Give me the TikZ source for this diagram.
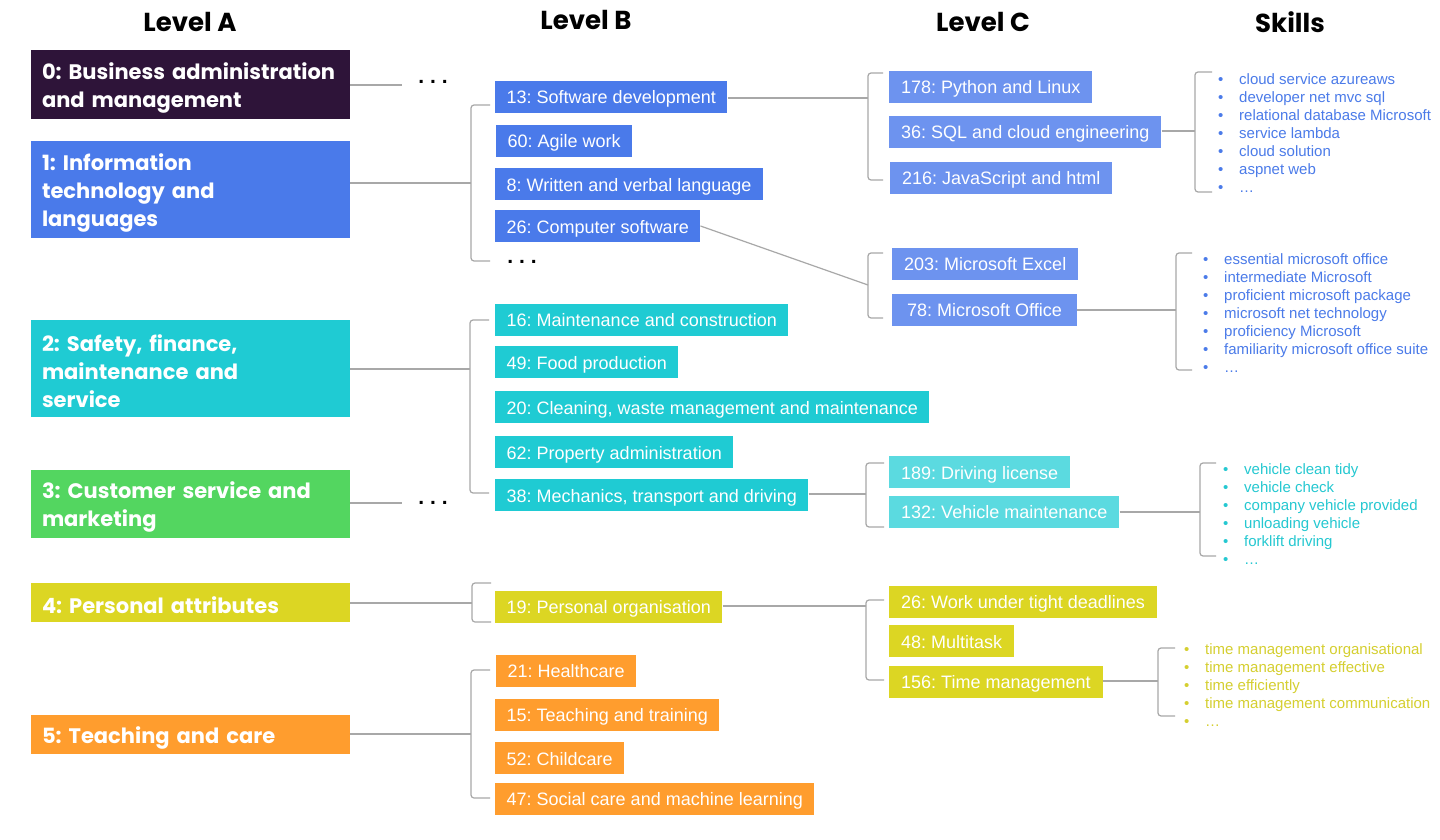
\documentclass[tikz,border=0pt]{standalone}
\usepackage{fontspec}
\setmainfont{Liberation Sans}
\newfontfamily\gothic{Poppins}
\usepackage{xcolor}
\usepackage{tikz}
\frenchspacing

\definecolor{purpA}{HTML}{2E1439}
\definecolor{blueA}{HTML}{4A7AEA}
\definecolor{blueC}{HTML}{6D93EF}
\definecolor{cyanA}{HTML}{1FCBD3}
\definecolor{cyanC}{HTML}{5BDAE0}
\definecolor{greenA}{HTML}{53D660}
\definecolor{yellowA}{HTML}{DCD623}
\definecolor{orangeA}{HTML}{FF9D2E}
\definecolor{skillblue}{HTML}{4B7BE9}
\definecolor{skillcyan}{HTML}{25C8D1}
\definecolor{skillyellow}{HTML}{D5CF30}
\definecolor{linegray}{HTML}{A8A8A8}

\begin{document}
\begin{tikzpicture}[x=1pt, y=-1pt,
    head/.style={font=\gothic\bfseries\fontsize{26}{30}\selectfont},
    catA/.style={minimum width=319pt, text width=297pt, inner xsep=11pt,
                 inner ysep=0pt, align=left, text=white, text height=23pt,
                 font=\gothic\bfseries\fontsize{21}{28}\selectfont},
    catB/.style={anchor=west, minimum height=32pt, inner xsep=11.5pt,
                 inner ysep=0pt, text height=15pt, text depth=1pt,
                 text=white, font=\fontsize{18}{20}\selectfont},
    catC/.style={catB, inner xsep=12pt},
    skill/.style={anchor=west, inner sep=0pt, text height=11pt,
                  text depth=3.5pt, font=\fontsize{15}{18}\selectfont},
    dots/.style={inner sep=0pt, font=\bfseries\fontsize{21}{21}\selectfont},
    link/.style={draw=linegray, line width=1.2pt},
    brace/.style={link, rounded corners=3pt}]
  \fill[white] (0,0) rectangle (1440,840);
  \useasboundingbox (0,0) rectangle (1440,840);

  % headers
  \node[head] (hA) at (190,22) {Level A};
  \node[head] (hB) at (586,20) {Level B};
  \node[head] (hC) at (983,22) {Level C};
  \node[head] (hS) at (1290,22) {Skills};

  % level A
  \node[catA, fill=purpA,   minimum height=69pt] (a0) at (190.5,84.5)
    {0: Business administration\\and management};
  \node[catA, fill=blueA,   minimum height=97pt] (a1) at (190.5,189.5)
    {1: Information\\technology and\\languages};
  \node[catA, fill=cyanA,   minimum height=97pt] (a2) at (190.5,368.5)
    {2: Safety, finance,\\maintenance and\\service};
  \node[catA, fill=greenA,  minimum height=68pt] (a3) at (190.5,504)
    {3: Customer service and\\marketing};
  \node[catA, fill=yellowA, minimum height=39pt] (a4) at (190.5,602)
    {4: Personal attributes};
  \node[catA, fill=orangeA, minimum height=39pt] (a5) at (190.5,734.5)
    {5: Teaching and care};

  % level B
  \node[catB, fill=blueA]   (b13) at (495,97)    {13: Software development};
  \node[catB, fill=blueA]   (b60) at (496,141)   {60: Agile work};
  \node[catB, fill=blueA]   (b8)  at (495,184)   {8: Written and verbal language};
  \node[catB, fill=blueA]   (b26) at (495,226)   {26: Computer software};
  \node[catB, fill=cyanA]   (b16) at (495,319.5) {16: Maintenance and construction};
  \node[catB, fill=cyanA]   (b49) at (495,362)   {49: Food production};
  \node[catB, fill=cyanA]   (b20) at (495,407)   {20: Cleaning, waste management and maintenance};
  \node[catB, fill=cyanA]   (b62) at (495,452)   {62: Property administration};
  \node[catB, fill=cyanA]   (b38) at (495,495)   {38: Mechanics, transport and driving};
  \node[catB, fill=yellowA] (b19) at (495,606.5) {19: Personal organisation};
  \node[catB, fill=orangeA] (b21) at (496,670.5) {21: Healthcare};
  \node[catB, fill=orangeA] (b15) at (495,714.5) {15: Teaching and training};
  \node[catB, fill=orangeA] (b52) at (495,758)   {52: Childcare};
  \node[catB, fill=orangeA] (b47) at (495,798.5) {47: Social care and machine learning};

  % level C
  \node[catC, fill=blueC]   (c178) at (889,87)    {178: Python and Linux};
  \node[catC, fill=blueC]   (c36)  at (889,132)   {36: SQL and cloud engineering};
  \node[catC, fill=blueC]   (c216) at (890,177.5) {216: JavaScript and html};
  \node[catC, fill=blueC]   (c203) at (892,263.5) {203: Microsoft Excel};
  \node[catC, fill=blueC, inner xsep=15pt] (c78) at (892,309.5) {78: Microsoft Office};
  \node[catC, fill=cyanC]   (c189) at (889,472)   {189: Driving license};
  \node[catC, fill=cyanC]   (c132) at (889,511.5) {132: Vehicle maintenance};
  \node[catC, fill=yellowA] (c26)  at (889,601.5) {26: Work under tight deadlines};
  \node[catC, fill=yellowA] (c48)  at (889,641)   {48: Multitask};
  \node[catC, fill=yellowA] (c156) at (889,681.5) {156: Time management};

  % skills
  \foreach \s [count=\i] in {cloud service azureaws, developer net mvc sql,
      relational database Microsoft, service lambda, cloud solution, aspnet web, …}
    \node[skill, text=skillblue] (sa\i) at (1218,62.5+18*\i)
      {\makebox[21pt][l]{\textbullet}\s};
  \foreach \s [count=\i] in {essential microsoft office, intermediate Microsoft,
      proficient microsoft package, microsoft net technology, proficiency Microsoft,
      familiarity microsoft office suite, …}
    \node[skill, text=skillblue] (sb\i) at (1203,242.5+18*\i)
      {\makebox[21pt][l]{\textbullet}\s};
  \foreach \s [count=\i] in {vehicle clean tidy, vehicle check, company vehicle provided,
      unloading vehicle, forklift driving, …}
    \node[skill, text=skillcyan] (sc\i) at (1223,452.5+18*\i)
      {\makebox[21pt][l]{\textbullet}\s};
  \foreach \s [count=\i] in {time management organisational, time management effective,
      time efficiently, time management communication, …}
    \node[skill, text=skillyellow] (sd\i) at (1184,632.5+18*\i)
      {\makebox[21pt][l]{\textbullet}\s};

  % omitted branches
  \node[dots] (dotsA0) at (433,82)  {.\ .\ .};
  \node[dots] (dotsA3) at (433,503) {.\ .\ .};
  \node[dots] (dotsB1) at (522,262) {.\ .\ .};

  % brackets
  \coordinate (brB1) at (471,183);
  \coordinate (brB2) at (470,369);
  \coordinate (brB4) at (472,603);
  \coordinate (brB5) at (471,734);
  \coordinate (brC1) at (868,98);
  \coordinate (brC2) at (868,285);
  \coordinate (brC3) at (866,494);
  \coordinate (brC4) at (866,606);
  \coordinate (brS1) at (1195,131);
  \coordinate (brS2) at (1176,310);
  \coordinate (brS3) at (1200,512);
  \coordinate (brS4) at (1158,681);
  \draw[brace] (490,105) -- (471,105) -- (471,261) -- (490,261);
  \draw[brace] (489,320) -- (470,320) -- (470,493) -- (489,493);
  \draw[brace] (491,583) -- (472,583) -- (472,622) -- (491,622);
  \draw[brace] (490,670) -- (471,670) -- (471,798) -- (490,798);
  \draw[brace] (883,73)  -- (868,73)  -- (868,180) -- (883,180);
  \draw[brace] (883,253) -- (868,253) -- (868,318) -- (883,318);
  \draw[brace] (884,463) -- (866,463) -- (866,527) -- (884,527);
  \draw[brace] (884,600) -- (866,600) -- (866,680) -- (884,680);
  \draw[brace] (1212,72)  -- (1195,72)  -- (1195,192) -- (1212,192);
  \draw[brace] (1192,253) -- (1176,253) -- (1176,370) -- (1192,370);
  \draw[brace] (1216,463) -- (1200,463) -- (1200,556) -- (1216,556);
  \draw[brace] (1175,648) -- (1158,648) -- (1158,716) -- (1175,716);

  % connectors
  \draw[link, shorten >=16pt] (a0.east |- 0,85) -- (dotsA0.west |- 0,85);
  \draw[link] (a1.east |- brB1) -- (brB1);
  \draw[link] (a2.east |- brB2) -- (brB2);
  \draw[link, shorten >=16pt] (a3.east |- 0,503) -- (dotsA3.west |- 0,503);
  \draw[link] (a4.east |- brB4) -- (brB4);
  \draw[link] (a5.east |- brB5) -- (brB5);
  \draw[link] (b13.east |- brC1) -- (brC1);
  \draw[link] (b26.east) -- (brC2);
  \draw[link] (b38.east |- brC3) -- (brC3);
  \draw[link] (b19.east |- brC4) -- (brC4);
  \draw[link] (c36.east |- brS1) -- (brS1);
  \draw[link] (c78.east |- brS2) -- (brS2);
  \draw[link] (c132.east |- brS3) -- (brS3);
  \draw[link] (c156.east |- brS4) -- (brS4);
\end{tikzpicture}
\end{document}
